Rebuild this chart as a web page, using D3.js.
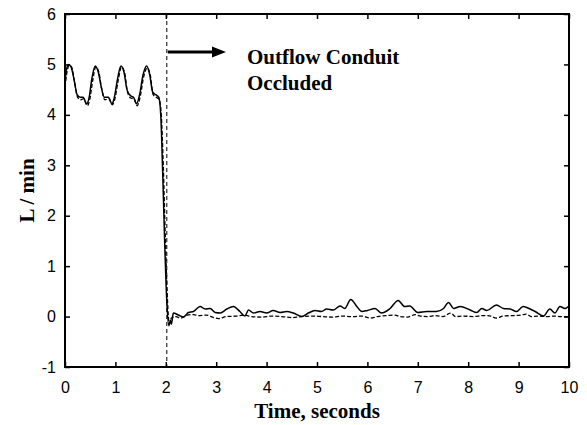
<!DOCTYPE html>
<html>
<head>
<meta charset="utf-8">
<script src="https://cdn.jsdelivr.net/npm/d3@7"></script>
<style>
  body { margin: 0; background: #fff; }
  .tick text { font-family: "Liberation Sans", Arial, sans-serif; font-size: 16px; fill: #000; }
  .title { font-family: "Liberation Serif", "Times New Roman", serif; font-weight: bold; font-size: 21px; fill: #000; }
</style>
</head>
<body>
<svg id="chart" width="587" height="425"></svg>
<script>
// solid trace (time in seconds, flow in L/min)
const solidTime = [0.00, 0.03, 0.07, 0.12, 0.18, 0.24, 0.30, 0.36, 0.43, 0.48, 0.53, 0.60, 0.66, 0.72, 0.78, 0.86, 0.93, 0.98,
    1.04, 1.11, 1.17, 1.23, 1.30, 1.36, 1.42, 1.48, 1.55, 1.62, 1.68, 1.74, 1.80, 1.86, 1.90, 1.94, 1.98, 2.02, 2.06, 2.09, 2.11,
    2.15, 2.25, 2.35, 2.45, 2.55, 2.68, 2.78, 2.88, 2.98, 3.08, 3.21, 3.34, 3.47, 3.57, 3.64, 3.74, 3.87, 4.00, 4.13, 4.27,
    4.40, 4.53, 4.70, 4.83, 4.96, 5.09, 5.19, 5.32, 5.46, 5.55, 5.67, 5.79, 5.89, 6.00, 6.15, 6.28, 6.45, 6.61, 6.74, 6.84,
    7.00, 7.18, 7.37, 7.51, 7.61, 7.71, 7.84, 8.04, 8.17, 8.27, 8.37, 8.56, 8.70, 8.83, 8.96, 9.09, 9.23, 9.33, 9.49, 9.62,
    9.72, 9.82, 9.92, 10.00];
const solidFlow = [4.65, 4.90, 5.00, 4.95, 4.70, 4.40, 4.35, 4.35, 4.22, 4.35, 4.70, 4.97, 4.85, 4.55, 4.35, 4.35, 4.22, 4.35,
    4.70, 4.97, 4.85, 4.50, 4.38, 4.35, 4.22, 4.40, 4.80, 4.97, 4.80, 4.45, 4.40, 4.35, 4.00, 2.80, 1.40, 0.30, -0.18, -0.08, -0.15,
    0.07, 0.03, -0.01, 0.08, 0.10, 0.20, 0.15, 0.16, 0.08, 0.07, 0.15, 0.20, 0.10, 0.01, 0.13, 0.07, 0.10, 0.07, 0.12, 0.08,
    0.10, 0.07, 0.00, 0.07, 0.12, 0.10, 0.15, 0.13, 0.21, 0.16, 0.34, 0.20, 0.10, 0.12, 0.16, 0.07, 0.16, 0.32, 0.20, 0.21,
    0.08, 0.10, 0.10, 0.16, 0.28, 0.16, 0.20, 0.13, 0.08, 0.16, 0.12, 0.23, 0.16, 0.15, 0.10, 0.20, 0.15, 0.10, 0.01, 0.15,
    0.07, 0.20, 0.16, 0.21];

// dashed trace
const dashedTime = [0.00, 0.04, 0.08, 0.13, 0.19, 0.25, 0.31, 0.37, 0.44, 0.49, 0.55, 0.61, 0.67, 0.73, 0.79, 0.87, 0.94, 0.99,
    1.05, 1.12, 1.18, 1.24, 1.31, 1.37, 1.43, 1.49, 1.56, 1.63, 1.69, 1.75, 1.81, 1.87, 1.91, 1.95, 1.99, 2.03, 2.07, 2.11,
    2.20, 2.30, 2.40, 2.55, 2.65, 2.80, 2.95, 3.05, 3.20, 3.40, 3.55, 3.70, 3.90, 4.10, 4.30, 4.50, 4.70, 4.90, 5.10, 5.30,
    5.50, 5.70, 5.90, 6.05, 6.20, 6.40, 6.55, 6.65, 6.80, 6.95, 7.05, 7.20, 7.35, 7.50, 7.65, 7.75, 7.90, 8.10, 8.30, 8.45,
    8.55, 8.70, 8.90, 9.05, 9.15, 9.25, 9.40, 9.55, 9.70, 9.85, 10.00];
const dashedFlow = [4.55, 4.85, 4.98, 4.95, 4.65, 4.35, 4.30, 4.32, 4.18, 4.30, 4.68, 4.95, 4.85, 4.50, 4.30, 4.32, 4.20, 4.32,
    4.65, 4.95, 4.85, 4.45, 4.33, 4.32, 4.18, 4.35, 4.75, 4.93, 4.80, 4.40, 4.35, 4.30, 4.00, 3.00, 1.60, 0.40, -0.15, -0.03,
    0.00, -0.03, 0.02, 0.04, 0.02, 0.03, -0.02, -0.04, 0.00, 0.01, 0.03, 0.00, -0.01, 0.01, 0.00, -0.02, 0.00, 0.01, 0.00, -0.01,
    0.01, 0.00, 0.01, -0.03, 0.00, 0.02, 0.03, 0.00, -0.01, 0.04, 0.01, 0.00, 0.02, 0.00, 0.07, 0.00, 0.01, 0.00, 0.02, 0.01,
    -0.03, 0.01, 0.02, 0.03, 0.05, 0.00, 0.01, 0.00, 0.01, 0.00, 0.00];

const xTicks = [0, 1, 2, 3, 4, 5, 6, 7, 8, 9, 10];
const yTicks = [-1, 0, 1, 2, 3, 4, 5, 6];
const occlusionTime = 2.02;
const annotationLines = ["Outflow Conduit", "Occluded"];

const margin = { top: 14, right: 18, bottom: 58, left: 65 };
const width = 587, height = 425;

const svg = d3.select("#chart");

const x = d3.scaleLinear().domain([0, 10]).range([margin.left, width - margin.right]);
const y = d3.scaleLinear().domain([-1, 6]).range([height - margin.bottom, margin.top]);

// axes with inward ticks; plain hyphen for negatives like the original
svg.append("g")
    .attr("transform", `translate(0,${y(-1)})`)
    .call(d3.axisBottom(x).tickValues(xTicks).tickSize(-5).tickPadding(15).tickFormat(d => String(d)))
    .call(g => g.select(".domain").remove());

svg.append("g")
    .attr("transform", `translate(${x(0)},0)`)
    .call(d3.axisLeft(y).tickValues(yTicks).tickSize(-5).tickPadding(9).tickFormat(d => String(d)))
    .call(g => g.select(".domain").remove());

svg.append("g")
    .attr("transform", `translate(0,${y(6)})`)
    .call(d3.axisTop(x).tickValues(xTicks).tickSize(-5).tickFormat(""))
    .call(g => g.select(".domain").remove());

svg.append("g")
    .attr("transform", `translate(${x(10)},0)`)
    .call(d3.axisRight(y).tickValues(yTicks).tickSize(-5).tickFormat(""))
    .call(g => g.select(".domain").remove());

svg.selectAll(".tick line").attr("stroke", "#000").attr("stroke-width", 1.5);

// frame
svg.append("rect")
    .attr("x", x(0))
    .attr("y", y(6))
    .attr("width", x(10) - x(0))
    .attr("height", y(-1) - y(6))
    .attr("fill", "none")
    .attr("stroke", "#000")
    .attr("stroke-width", 2);

// occlusion marker
svg.append("line")
    .attr("x1", x(occlusionTime)).attr("x2", x(occlusionTime))
    .attr("y1", y(6)).attr("y2", y(-1))
    .attr("stroke", "#000")
    .attr("stroke-width", 1)
    .attr("stroke-dasharray", "4,3");

const line = d3.line()
    .x(d => x(d[0]))
    .y(d => y(d[1]))
    .curve(d3.curveMonotoneX);

svg.append("path")
    .datum(dashedTime.map((t, i) => [t, dashedFlow[i]]))
    .attr("d", line)
    .attr("fill", "none")
    .attr("stroke", "#000")
    .attr("stroke-width", 1.3)
    .attr("stroke-dasharray", "4,2");

svg.append("path")
    .datum(solidTime.map((t, i) => [t, solidFlow[i]]))
    .attr("d", line)
    .attr("fill", "none")
    .attr("stroke", "#000")
    .attr("stroke-width", 1.5);

// arrow + annotation
const arrowY = 52;
svg.append("line")
    .attr("x1", x(occlusionTime) + 1).attr("x2", 214)
    .attr("y1", arrowY).attr("y2", arrowY)
    .attr("stroke", "#000")
    .attr("stroke-width", 3);
svg.append("path")
    .attr("d", `M212,${arrowY - 5.5}L226,${arrowY}L212,${arrowY + 5.5}Z`)
    .attr("fill", "#000");

svg.append("text")
    .attr("class", "title")
    .attr("x", 247)
    .attr("y", 64)
    .selectAll("tspan")
    .data(annotationLines)
    .enter()
    .append("tspan")
    .attr("x", 247)
    .attr("dy", (d, i) => i === 0 ? 0 : 26)
    .text(d => d);

// axis titles
svg.append("text")
    .attr("class", "title")
    .attr("x", (x(0) + x(10)) / 2)
    .attr("y", 418)
    .attr("text-anchor", "middle")
    .text("Time, seconds");

svg.append("text")
    .attr("class", "title")
    .attr("transform", `translate(34,${(y(-1) + y(6)) / 2}) rotate(-90)`)
    .attr("text-anchor", "middle")
    .text("L / min");
</script>
</body>
</html>
